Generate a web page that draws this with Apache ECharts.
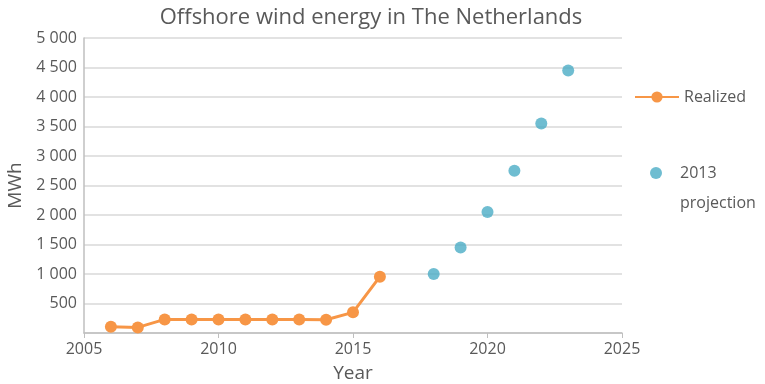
<!DOCTYPE html>
<html><head><meta charset="utf-8">
<script src="https://cdn.jsdelivr.net/npm/echarts@6/dist/echarts.min.js"></script>
<style>html,body{margin:0;padding:0;background:#fff}#c{width:765px;height:384px}</style>
</head><body><div id="c"></div>
<script>
const realizedYears = [2006, 2007, 2008, 2009, 2010, 2011, 2012, 2013, 2014, 2015, 2016];
const realizedValues = [105, 95, 230, 228, 228, 228, 228, 228, 225, 350, 955];
const projectionYears = [2018, 2019, 2020, 2021, 2022, 2023];
const projectionValues = [1000, 1450, 2050, 2750, 3550, 4450];
const xTicks = [2005, 2010, 2015, 2020, 2025];
const yTicks = [500, 1000, 1500, 2000, 2500, 3000, 3500, 4000, 4500, 5000];

const FONT = '"Open Sans", sans-serif';
const TXT = '#595959';
const chart = echarts.init(document.getElementById('c'));
chart.setOption({
  animation: false,
  title: {
    text: 'Offshore wind energy in The Netherlands',
    left: 366, textAlign: 'center', top: 2,
    textStyle: {fontFamily: FONT, fontSize: 22, fontWeight: 'normal', color: TXT}
  },
  legend: [
    {
      data: ['Realized'], left: 634, top: 89, padding: 0, itemWidth: 44, itemHeight: 14, itemGap: 0,
      textStyle: {fontFamily: FONT, fontSize: 16, color: TXT}
    },
    {
      data: ['2013 projection'], left: 650, top: 128, padding: 0, itemWidth: 38, itemHeight: 12,
      formatter: n => '\n' + n.replace(' ', '\n'),
      textStyle: {fontFamily: FONT, fontSize: 16, color: TXT, lineHeight: 30}
    }
  ],
  grid: {left: 84, right: 143, top: 38, bottom: 51, containLabel: false, outerBoundsMode: 'none'},
  xAxis: {
    type: 'value', min: 2005, max: 2025, interval: 5,
    name: 'Year', nameLocation: 'middle', nameGap: 31,
    nameTextStyle: {fontFamily: FONT, fontSize: 19, color: TXT},
    axisLine: {show: true, lineStyle: {color: '#bfbfbf', width: 1.5}},
    axisTick: {show: true, length: 5, lineStyle: {color: '#bfbfbf'}},
    axisLabel: {fontFamily: FONT, fontSize: 16, color: TXT, margin: 8,
      formatter: v => xTicks.includes(v) ? String(v) : ''},
    splitLine: {show: false}
  },
  yAxis: {
    type: 'value', min: 0, max: 5000, interval: 500,
    name: 'MWh', nameLocation: 'middle', nameGap: 59,
    nameTextStyle: {fontFamily: FONT, fontSize: 19, color: TXT},
    axisLine: {show: true, lineStyle: {color: '#bfbfbf', width: 1.5}},
    axisTick: {show: false},
    axisLabel: {fontFamily: FONT, fontSize: 16, color: TXT, margin: 7,
      formatter: v => yTicks.includes(v) ? (v >= 1000 ? Math.floor(v/1000) + ' ' + String(v%1000).padStart(3,'0') : String(v)) : ''},
    splitLine: {show: true, lineStyle: {color: '#d9d9d9', width: 1.5}}
  },
  series: [
    {
      name: 'Realized', type: 'line',
      data: realizedYears.map((y, i) => [y, realizedValues[i]]),
      symbol: 'circle', symbolSize: 12,
      lineStyle: {color: '#F79646', width: 3},
      itemStyle: {color: '#F79646'}
    },
    {
      name: '2013 projection', type: 'scatter',
      data: projectionYears.map((y, i) => [y, projectionValues[i]]),
      symbol: 'circle', symbolSize: 12,
      itemStyle: {color: '#4BACC6'}
    }
  ]
});
</script></body></html>
